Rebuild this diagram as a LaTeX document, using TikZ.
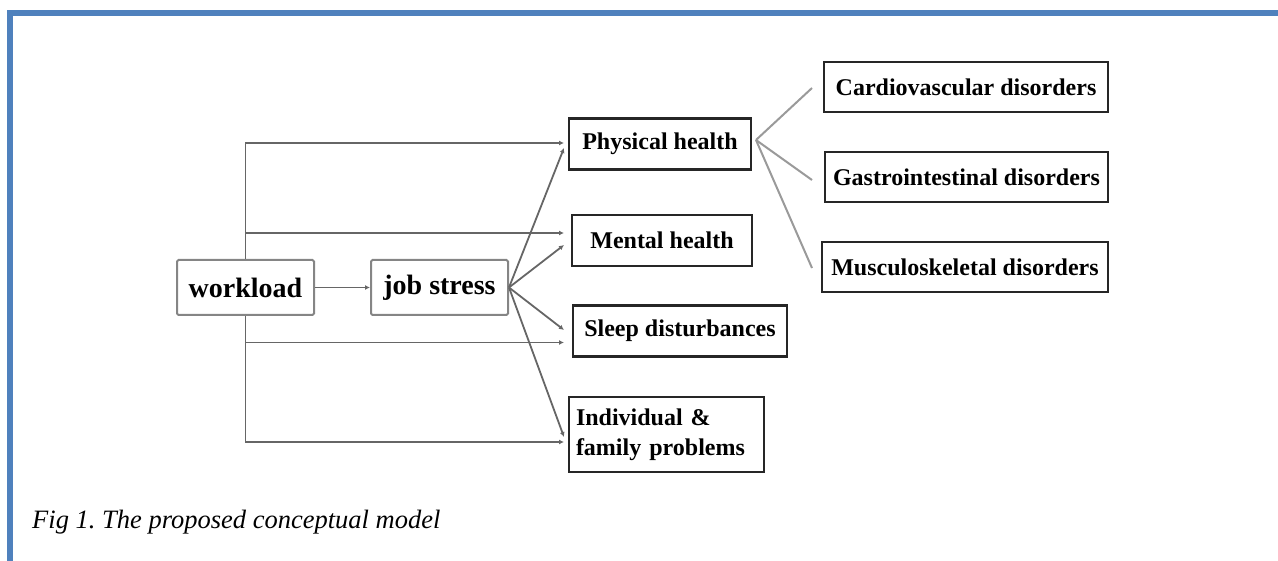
\documentclass[tikz,border=0pt]{standalone}
\usepackage{fontspec}
\setmainfont{Liberation Serif}
\usetikzlibrary{arrows.meta}
\definecolor{frameblue}{HTML}{4F81BD}
\definecolor{conngray}{HTML}{666666}
\definecolor{fangray}{HTML}{9A9A9A}
\definecolor{boxgray}{HTML}{858585}
\frenchspacing
\begin{document}
\begin{tikzpicture}[x=1pt,y=-1pt,
  graybox/.style={draw=boxgray,line width=2pt,rounded corners=1.5pt,inner sep=0pt,
    minimum width=137pt,minimum height=55pt,font=\fontsize{28}{30}\selectfont\bfseries},
  blackbox/.style={draw=black!85,line width=2.8pt,inner sep=0pt,minimum height=51pt,
    font=\fontsize{24}{30}\selectfont\bfseries},
  conn/.style={draw=conngray,line width=1.8pt},
  arr/.style={conn,-{Latex[length=5pt,width=5pt]}},
  fan/.style={draw=fangray,line width=2pt},
  frameline/.style={draw=frameblue,line width=5.5pt}
]
\useasboundingbox (0,0) rectangle (1278,561);
% frame
\draw[frameline] (7.2,13) -- (1278,13);
\draw[frameline] (10,10.2) -- (10,561);

% nodes
\node[graybox] (workload) at (245.5,287.5) {workload};
\node[graybox] (jobstress) at (439.5,287.5) {job stress};
\node[blackbox,minimum width=182pt] (physical) at (660,144) {Physical health};
\node[blackbox,minimum width=180pt] (mental) at (662,240.5) {Mental health};
\node[blackbox,minimum width=214pt] (sleep) at (680,331) {Sleep disturbances};
\node[blackbox,minimum height=75pt,text width=181pt,align=left,inner xsep=7pt] (indiv) at (666.5,434.5) {Individual \&\\family problems};
\node[blackbox,minimum width=284pt,minimum height=50pt] (cardio) at (966,87) {Cardiovascular disorders};
\node[blackbox,minimum width=283pt,minimum height=50pt] (gastro) at (966.5,177) {Gastrointestinal disorders};
\node[blackbox,minimum width=286pt,minimum height=50pt] (musculo) at (965,267) {Musculoskeletal disorders};

% connector end points
\coordinate (wPh) at (564,143);
\coordinate (wMe) at (564,233);
\coordinate (wSl) at (564,342.5);
\coordinate (wIn) at (564,442);
\coordinate (jPh) at (564,148);
\coordinate (jMe) at (564,245);
\coordinate (jSl) at (564,330);
\coordinate (jIn) at (564,437);
\coordinate (pR) at (756,140);
\coordinate (fCa) at (812,88);
\coordinate (fGa) at (812,180);
\coordinate (fMu) at (812,268);

% workload connectors
\draw[arr] (workload.east) -- (jobstress.west);
\draw[arr] (workload.north) |- (wPh);
\draw[arr] (workload.north |- wMe) -- (wMe);
\draw[arr] (workload.south) |- (wIn);
\draw[arr] (workload.south |- wSl) -- (wSl);

% job stress connectors
\draw[arr] (jobstress.east) -- (jPh);
\draw[arr] (jobstress.east) -- (jMe);
\draw[arr] (jobstress.east) -- (jSl);
\draw[arr] (jobstress.east) -- (jIn);

% physical health fan
\draw[fan] (pR) -- (fCa);
\draw[fan] (pR) -- (fGa);
\draw[fan] (pR) -- (fMu);

% caption
\node[anchor=base west,inner sep=0pt,font=\fontsize{26.5}{30}\selectfont\itshape] (caption) at (32,528) {Fig 1. The proposed conceptual model};
\end{tikzpicture}
\end{document}
